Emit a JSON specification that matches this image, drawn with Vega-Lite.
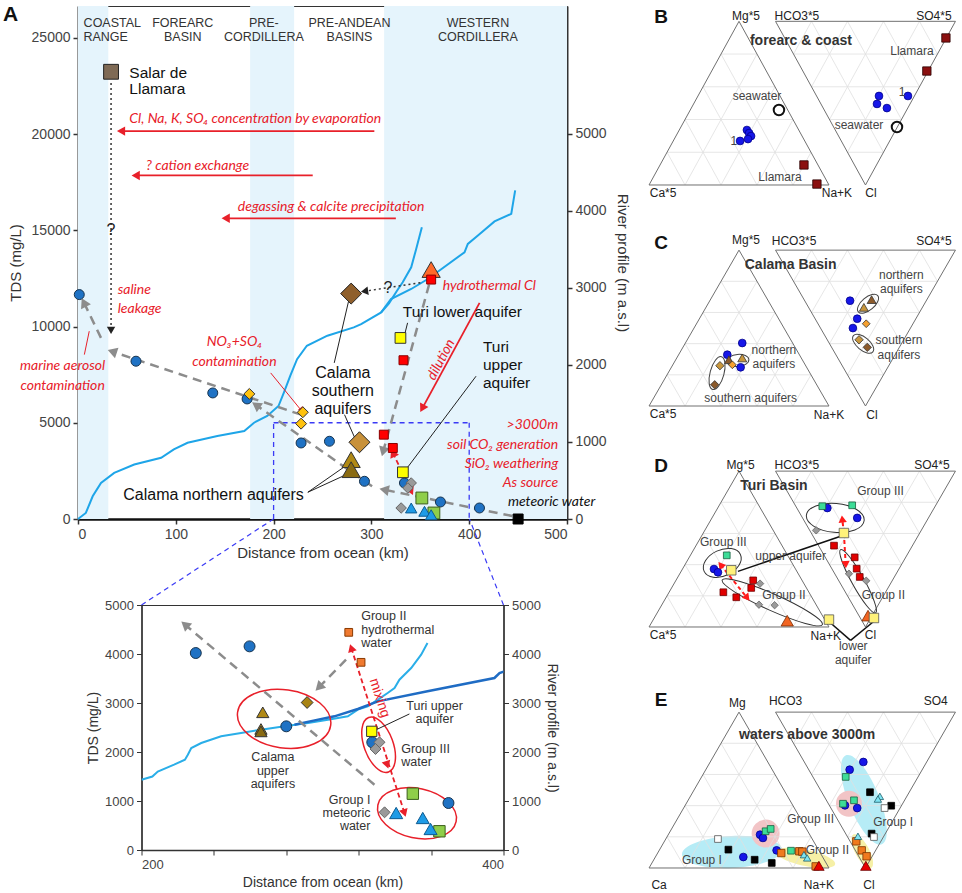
{
"$schema":"https://vega.github.io/schema/vega-lite/v6.json",
"background":"white",
"padding":{"left":2,"top":3,"right":0,"bottom":0},
"config":{
 "font":"Liberation Sans",
 "view":{"stroke":"#333333","strokeWidth":1},
 "axis":{"labelFont":"Liberation Sans","titleFont":"Liberation Sans","labelFontSize":14,"titleFontSize":15,"labelColor":"#444444","titleColor":"#333333","titleFontWeight":"normal","grid":false,"domainColor":"#333333","tickColor":"#333333","domainWidth":2,"tickWidth":1.5,"tickSize":5,"labelPadding":3},
 "text":{"baseline":"middle","font":"Liberation Sans"}
},
"datasets":{
 "tgrid":[
  {"x":0.1,"y":0.1732,"x2":0.9,"y2":0.1732},{"x":0.2,"y":0.3464,"x2":0.8,"y2":0.3464},{"x":0.3,"y":0.5196,"x2":0.7,"y2":0.5196},{"x":0.4,"y":0.6928,"x2":0.6,"y2":0.6928},
  {"x":0.2,"y":0,"x2":0.6,"y2":0.6928},{"x":0.4,"y":0,"x2":0.7,"y2":0.5196},{"x":0.6,"y":0,"x2":0.8,"y2":0.3464},{"x":0.8,"y":0,"x2":0.9,"y2":0.1732},
  {"x":0.2,"y":0,"x2":0.1,"y2":0.1732},{"x":0.4,"y":0,"x2":0.2,"y2":0.3464},{"x":0.6,"y":0,"x2":0.3,"y2":0.5196},{"x":0.8,"y":0,"x2":0.4,"y2":0.6928},
  {"x":0.803,"y":0.6928,"x2":1.603,"y2":0.6928},{"x":0.903,"y":0.5196,"x2":1.503,"y2":0.5196},{"x":1.003,"y":0.3464,"x2":1.403,"y2":0.3464},{"x":1.103,"y":0.1732,"x2":1.303,"y2":0.1732},
  {"x":0.903,"y":0.866,"x2":1.303,"y2":0.1732},{"x":1.103,"y":0.866,"x2":1.403,"y2":0.3464},{"x":1.303,"y":0.866,"x2":1.503,"y2":0.5196},{"x":1.503,"y":0.866,"x2":1.603,"y2":0.6928},
  {"x":0.903,"y":0.866,"x2":0.803,"y2":0.6928},{"x":1.103,"y":0.866,"x2":0.903,"y2":0.5196},{"x":1.303,"y":0.866,"x2":1.003,"y2":0.3464},{"x":1.503,"y":0.866,"x2":1.103,"y2":0.1732}
 ],
 "tedge":[
  {"x":0,"y":0,"x2":1,"y2":0},{"x":1,"y":0,"x2":0.5,"y2":0.866},{"x":0.5,"y":0.866,"x2":0,"y2":0},
  {"x":0.703,"y":0.866,"x2":1.703,"y2":0.866},{"x":1.703,"y":0.866,"x2":1.203,"y2":0},{"x":1.203,"y":0,"x2":0.703,"y2":0.866}
 ]
},
"resolve":{"scale":{"shape":"independent","fill":"independent","stroke":"independent","size":"independent"}},
"hconcat":[
{"vconcat":[
 {
 "width":489,"height":513,
 "layer":[
  {"data":{"values":[{"d":0,"d2":31},{"d":176,"d2":221},{"d":313,"d2":500}]},
   "mark":{"type":"rect","color":"#e5f4fc"},
   "encoding":{"x":{"field":"d","type":"quantitative","scale":{"domain":[0,500],"nice":false,"zero":false},"title":"Distance from ocean (km)"},"x2":{"field":"d2"}}},
  {"data":{"values":[
    {"s":"m","d":0,"e":0},{"s":"m","d":8,"e":78},{"s":"m","d":15,"e":295},{"s":"m","d":23.5,"e":469},{"s":"m","d":37,"e":599},{"s":"m","d":57.5,"e":707},{"s":"m","d":85,"e":794},{"s":"m","d":98,"e":903},{"s":"m","d":112,"e":990},{"s":"m","d":142.5,"e":1077},{"s":"m","d":170,"e":1142},{"s":"m","d":180,"e":1250},{"s":"m","d":193.5,"e":1337},{"s":"m","d":205,"e":1467},{"s":"m","d":210.5,"e":1640},{"s":"m","d":217,"e":1858},{"s":"m","d":224,"e":2075},{"s":"m","d":234,"e":2249},{"s":"m","d":255,"e":2380},{"s":"m","d":282,"e":2487},{"s":"m","d":289.5,"e":2530},{"s":"m","d":310,"e":2682},{"s":"m","d":320,"e":2855},{"s":"m","d":340.7,"e":2986},{"s":"m","d":357.7,"e":3116},{"s":"m","d":395.2,"e":3463},{"s":"m","d":398.6,"e":3571},{"s":"m","d":408.9,"e":3681},{"s":"m","d":425.9,"e":3863},{"s":"m","d":443,"e":3962},{"s":"m","d":447,"e":4267},
    {"s":"b","d":310,"e":2682},{"s":"b","d":318,"e":2800},{"s":"b","d":326,"e":2960},{"s":"b","d":332,"e":3073},{"s":"b","d":340.7,"e":3268},{"s":"b","d":345.8,"e":3506},{"s":"b","d":351.6,"e":3789}
   ]},
   "mark":{"type":"line","color":"#1ea5e8","strokeWidth":2},
   "encoding":{"x":{"field":"d","type":"quantitative","scale":{"domain":[0,500],"nice":false,"zero":false},"title":"Distance from ocean (km)"},
    "y":{"field":"e","type":"quantitative","scale":{"domain":[0,6660],"nice":false,"zero":false},"axis":{"orient":"right","title":"River profile (m a.s.l)","values":[0,1000,2000,3000,4000,5000],"format":"d","titlePadding":8}},
    "detail":{"field":"s","type":"nominal"}}},
  {"encoding":{
    "x":{"field":"d","type":"quantitative","scale":{"domain":[0,500],"nice":false,"zero":false},"title":"Distance from ocean (km)","axis":{"values":[0,100,200,300,400,500],"domainWidth":2.5,"domainColor":"#111111"}},
    "y":{"field":"t","type":"quantitative","scale":{"domain":[0,26650],"nice":false,"zero":false},"title":"TDS (mg/L)","axis":{"values":[0,5000,10000,15000,20000,25000],"format":"d","domainColor":"#777777","domainWidth":2.5,"titlePadding":8}}},
   "layer":[
    {"data":{"values":[{"d":200,"t":0,"d2":200,"t2":5000},{"d":200,"t":5000,"d2":400,"t2":5000},{"d":400,"t":5000,"d2":400,"t2":0}]},
     "mark":{"type":"rule","color":"#3a3af5","strokeWidth":1.3,"strokeDash":[5,4]},"encoding":{"x2":{"field":"d2"},"y2":{"field":"t2"}}},
    {"data":{"values":[{"d":444,"t":156,"d2":313,"t2":1523},{"d":300.7,"t":1698,"d2":182,"t2":5920},{"d":228,"t":5420,"d2":35,"t2":8700},{"d":23.5,"t":9410,"d2":6,"t2":11250},{"d":359,"t":12180,"d2":312,"t2":3500}]},
     "mark":{"type":"rule","color":"#8c8c8c","strokeWidth":2.5,"strokeDash":[9,6]},"encoding":{"x2":{"field":"d2"},"y2":{"field":"t2"}}},
    {"data":{"values":[{"d":350,"t":12270,"d2":293,"t2":11830},{"d":33.8,"t":22650,"d2":33.8,"t2":9800}]},
     "mark":{"type":"rule","color":"#333333","strokeWidth":1.5,"strokeDash":[2,3]},"encoding":{"x2":{"field":"d2"},"y2":{"field":"t2"}}},
    {"data":{"values":[{"d":303,"t":20150,"d2":44,"t2":20150},{"d":240,"t":17850,"d2":59,"t2":17850},{"d":325,"t":15620,"d2":151,"t2":15620},{"d":410.6,"t":11230,"d2":352,"t2":5750}]},
     "mark":{"type":"rule","color":"#e8202a","strokeWidth":1.8},"encoding":{"x2":{"field":"d2"},"y2":{"field":"t2"}}},
    {"data":{"values":[{"d":197,"t":7590,"d2":229,"t2":5598},{"d":11.5,"t":9757,"d2":6.5,"t2":8540}]},
     "mark":{"type":"rule","color":"#e8202a","strokeWidth":1},"encoding":{"x2":{"field":"d2"},"y2":{"field":"t2"}}},
    {"data":{"values":[{"d":322,"t":3430,"d2":340.7,"t2":1440}]},
     "mark":{"type":"rule","color":"#e8202a","strokeWidth":1.8,"strokeDash":[5,3]},"encoding":{"x2":{"field":"d2"},"y2":{"field":"t2"}}},
    {"data":{"values":[{"d":262,"t":8110,"d2":277.5,"t2":11500},{"d":272.5,"t":5420,"d2":282.7,"t2":4250},{"d":235,"t":1390,"d2":274,"t2":2770},{"d":235,"t":1390,"d2":274,"t2":2300},{"d":407,"t":7418,"d2":334,"t2":2480},{"d":337,"t":10190,"d2":334,"t2":9580}]},
     "mark":{"type":"rule","color":"#222222","strokeWidth":1},"encoding":{"x2":{"field":"d2"},"y2":{"field":"t2"}}},
    {"data":{"values":[{"d":313,"t":1523,"a":-78.4},{"d":182,"t":5920,"a":-55.3},{"d":35,"t":8700,"a":-71.5},{"d":6,"t":11250,"a":-26.5},{"d":312,"t":3500,"a":-164.6}]},
     "mark":{"type":"point","shape":"triangle-up","filled":true,"color":"#8c8c8c","size":120,"opacity":1},"encoding":{"angle":{"field":"a","type":"quantitative","scale":null}}},
    {"data":{"values":[{"d":293,"t":11830,"a":-98.5},{"d":33.8,"t":9800,"a":180}]},
     "mark":{"type":"point","shape":"triangle-up","filled":true,"color":"#222222","size":70,"opacity":1},"encoding":{"angle":{"field":"a","type":"quantitative","scale":null}}},
    {"data":{"values":[{"d":44,"t":20150,"a":-90},{"d":59,"t":17850,"a":-90},{"d":151,"t":15620,"a":-90},{"d":352,"t":5750,"a":-151.4},{"d":322,"t":3430,"a":-25.5},{"d":340.7,"t":1440,"a":154.5}]},
     "mark":{"type":"point","shape":"triangle-up","filled":true,"color":"#e8202a","size":90,"opacity":1},"encoding":{"angle":{"field":"a","type":"quantitative","scale":null}}},
    {"data":{"values":[{"d":229,"t":5650,"a":140.7}]},
     "mark":{"type":"point","shape":"triangle-up","filled":true,"color":"#e8202a","size":40,"opacity":1},"encoding":{"angle":{"field":"a","type":"quantitative","scale":null}}},
    {"data":{"values":[
      {"d":279.3,"t":11710,"c":"bdD"},{"d":287.8,"t":3987,"c":"bdL"},{"d":279.3,"t":3082,"c":"btL"},{"d":279.3,"t":2562,"c":"btD"},
      {"d":361.1,"t":12958,"c":"hyd"},{"d":361.1,"t":12438,"c":"red"},{"d":332.8,"t":8248,"c":"red"},{"d":312.7,"t":4381,"c":"red"},{"d":321.9,"t":3690,"c":"red"},
      {"d":1.3,"t":11658,"c":"gw"},{"d":59.3,"t":8197,"c":"gw"},{"d":137.8,"t":6549,"c":"gw"},{"d":172.9,"t":6237,"c":"gw"},{"d":228.1,"t":3950,"c":"gw"},{"d":257.1,"t":4038,"c":"gw"},{"d":292.9,"t":1959,"c":"gw"},{"d":333.8,"t":1871,"c":"gw"},{"d":370.6,"t":884,"c":"gw"},{"d":410.5,"t":572,"c":"gw"},
      {"d":175.2,"t":6497,"c":"yd"},{"d":229.9,"t":5546,"c":"yd"},{"d":228.1,"t":4953,"c":"yd"},
      {"d":340.7,"t":1871,"c":"gray"},{"d":337.3,"t":1611,"c":"gray"},{"d":330.4,"t":572,"c":"gray"},
      {"d":329.7,"t":9407,"c":"ysq"},{"d":332.2,"t":2427,"c":"ysq"},
      {"d":351.6,"t":1091,"c":"green"},{"d":363.9,"t":312,"c":"green"},
      {"d":340.7,"t":572,"c":"cyan"},{"d":354.3,"t":400,"c":"cyan"},{"d":361.1,"t":223,"c":"cyan"},
      {"d":450,"t":0,"c":"blk"},{"d":33.8,"t":23233,"c":"salar"}
     ]},
     "mark":{"type":"point","filled":true,"strokeWidth":1,"opacity":1},
     "encoding":{
      "shape":{"field":"c","type":"nominal","scale":{"domain":["gw","yd","bdD","bdL","btL","btD","red","hyd","ysq","gray","green","cyan","blk","salar"],"range":["circle","diamond","diamond","diamond","triangle-up","triangle-up","square","triangle-up","square","diamond","square","triangle-up","square","square"]},"legend":null},
      "fill":{"field":"c","type":"nominal","scale":{"domain":["gw","yd","bdD","bdL","btL","btD","red","hyd","ysq","gray","green","cyan","blk","salar"],"range":["#1f72c4","#ffc20e","#8f5f2c","#c8913a","#b08915","#8a6b12","#ff0000","#ff6a2b","#ffff00","#9a9a9a","#8fce4a","#1e9be6","#000000","#7f6a55"]},"legend":null},
      "stroke":{"field":"c","type":"nominal","scale":{"domain":["gw","yd","bdD","bdL","btL","btD","red","hyd","ysq","gray","green","cyan","blk","salar"],"range":["#17344f","#333333","#222222","#222222","#333333","#333333","#8a0000","#333333","#333333","#666666","#3b5e1c","#0e5a90","#000000","#222222"]},"legend":null},
      "size":{"field":"c","type":"nominal","scale":{"type":"ordinal","domain":["gw","yd","bdD","bdL","btL","btD","red","hyd","ysq","gray","green","cyan","blk","salar"],"range":[100,120,440,440,330,330,80,330,115,110,140,130,100,220]},"legend":null}}},
    {"data":{"values":[{"d":35.1,"t":25780,"s":"COASTAL"},{"d":28.3,"t":25036,"s":"RANGE"},{"d":107.1,"t":25780,"s":"FOREARC"},{"d":107.1,"t":25036,"s":"BASIN"},{"d":190,"t":25780,"s":"PRE-"},{"d":190,"t":25036,"s":"CORDILLERA"},{"d":277.6,"t":25780,"s":"PRE-ANDEAN"},{"d":277.6,"t":25036,"s":"BASINS"},{"d":408.9,"t":25780,"s":"WESTERN"},{"d":408.9,"t":25036,"s":"CORDILLERA"}]},
     "mark":{"type":"text","fontSize":12.5,"color":"#333333","align":"center"},"encoding":{"text":{"field":"s"}}},
    {"data":{"values":[{"d":52.5,"t":20790,"s":"Cl, Na, K, SO₄ concentration by evaporation"},{"d":69.6,"t":18331,"s":"? cation exchange"},{"d":163.4,"t":16216,"s":"degassing & calcite precipitation"},{"d":40.6,"t":11887,"s":"saline"},{"d":40.6,"t":10930,"s":"leakage"},{"d":373,"t":12130,"s":"hydrothermal Cl"}]},
     "mark":{"type":"text","font":"Lato","fontStyle":"italic","fontSize":14,"color":"#e8202a","align":"left"},"encoding":{"text":{"field":"s"}}},
    {"data":{"values":[{"d":-15.7,"t":7937,"s":"marine aerosol"},{"d":-15.7,"t":6928,"s":"contamination"},{"d":159.9,"t":9184,"s":"NO₃+SO₄"},{"d":159.9,"t":8160,"s":"contamination"}]},
     "mark":{"type":"text","font":"Lato","fontStyle":"italic","fontSize":14,"color":"#e8202a","align":"center"},"encoding":{"text":{"field":"s"}}},
    {"data":{"values":[{"d":491,"t":4900,"s":">3000m"},{"d":491,"t":3860,"s":"soil CO₂ generation"},{"d":491,"t":2860,"s":"SiO₂ weathering"},{"d":491,"t":1870,"s":"As source"}]},
     "mark":{"type":"text","font":"Lato","fontStyle":"italic","fontSize":14,"color":"#e8202a","align":"right"},"encoding":{"text":{"field":"s"}}},
    {"data":{"values":[{"d":371.4,"t":8280,"s":"dilution"}]},
     "mark":{"type":"text","font":"Lato","fontStyle":"italic","fontSize":14,"color":"#e8202a","align":"center","angle":-62},"encoding":{"text":{"field":"s"}}},
    {"data":{"values":[{"d":270.8,"t":7590,"s":"Calama"},{"d":270.8,"t":6638,"s":"southern"},{"d":270.8,"t":5718,"s":"aquifers"},{"d":138.6,"t":1265,"s":"Calama northern aquifers"}]},
     "mark":{"type":"text","fontSize":16,"color":"#111111","align":"center"},"encoding":{"text":{"field":"s"}}},
    {"data":{"values":[{"d":332.1,"t":10743,"s":"Turi lower aquifer"},{"d":414,"t":8910,"s":"Turi"},{"d":414,"t":7990,"s":"upper"},{"d":414,"t":7068,"s":"aquifer"},{"d":52.5,"t":23180,"s":"Salar de"},{"d":52.5,"t":22350,"s":"Llamara"}]},
     "mark":{"type":"text","fontSize":15.5,"color":"#111111","align":"left"},"encoding":{"text":{"field":"s"}}},
    {"data":{"values":[{"d":439.6,"t":868,"s":"meteoric water"}]},
     "mark":{"type":"text","font":"Lato","fontStyle":"italic","fontSize":14,"color":"#111111","align":"left"},"encoding":{"text":{"field":"s"}}},
    {"data":{"values":[{"d":33.8,"t":15036,"s":"?"},{"d":316.8,"t":12006,"s":"?"}]},
     "mark":{"type":"text","fontSize":16,"color":"#222222","align":"center"},"encoding":{"text":{"field":"s"}}},
    {"data":{"values":[{"d":-69,"t":26200,"s":"A"}]},
     "mark":{"type":"text","fontSize":21,"fontWeight":"bold","color":"#111111","align":"center"},"encoding":{"text":{"field":"s"}}}
   ]}
 ],
 "resolve":{"scale":{"y":"independent"}}
 },
 {
 "width":362,"height":245,
 "layer":[
  {"encoding":{
    "x":{"field":"d","type":"quantitative","scale":{"domain":[200,400],"nice":false,"zero":false},"title":"Distance from ocean (km)"},
    "y":{"field":"e","type":"quantitative","scale":{"domain":[0,5000],"nice":false,"zero":false},"axis":{"orient":"right","title":"River profile (m a.s.l)","values":[0,1000,2000,3000,4000,5000],"format":"d","labelFontSize":13,"titleFontSize":14,"domainWidth":1.5,"tickWidth":1}}},
   "layer":[
    {"data":{"values":[{"d":200,"e":1435},{"d":206,"e":1500},{"d":209,"e":1602},{"d":218,"e":1741},{"d":224,"e":1843},{"d":225.6,"e":1945},{"d":227.5,"e":2082},{"d":233,"e":2184},{"d":244,"e":2320},{"d":255,"e":2388},{"d":266,"e":2456},{"d":279,"e":2524},{"d":292,"e":2592},{"d":303,"e":2660},{"d":314,"e":2728},{"d":319.5,"e":2864},{"d":325,"e":2932},{"d":330.6,"e":3068},{"d":336,"e":3204},{"d":339.8,"e":3306},{"d":342.5,"e":3475},{"d":349,"e":3714},{"d":354.5,"e":3986},{"d":358,"e":4224}]},
     "mark":{"type":"line","color":"#2aaee8","strokeWidth":2,"clip":true}},
    {"data":{"values":[{"d":284.5,"e":2555},{"d":295,"e":2640},{"d":306.6,"e":2728},{"d":319.5,"e":2878},{"d":330.6,"e":3034},{"d":358,"e":3238},{"d":395,"e":3510},{"d":397.8,"e":3612},{"d":402,"e":3666}]},
     "mark":{"type":"line","color":"#1f6cc4","strokeWidth":2.5,"clip":true}}
   ]},
  {"encoding":{
    "x":{"field":"d","type":"quantitative","scale":{"domain":[200,400],"nice":false,"zero":false},"title":"Distance from ocean (km)","axis":{"values":[200,220,240,260,280,300,320,340,360,380,400],"labelExpr":"datum.value % 100 === 0 ? datum.label : ''","labelFontSize":13,"titleFontSize":14,"domainWidth":1.5,"tickWidth":1}},
    "y":{"field":"t","type":"quantitative","scale":{"domain":[0,5000],"nice":false,"zero":false},"title":"TDS (mg/L)","axis":{"values":[0,1000,2000,3000,4000,5000],"format":"d","labelFontSize":13,"titleFontSize":14,"domainWidth":1.5,"tickWidth":1}}},
   "layer":[
    {"data":{"values":[{"d":200,"t":5000,"d2":272.9,"t2":6755},{"d":400,"t":5000,"d2":381.2,"t2":6755}]},
     "mark":{"type":"rule","color":"#3a3af5","strokeWidth":1.2,"strokeDash":[5,4]},"encoding":{"x2":{"field":"d2"},"y2":{"field":"t2"}}},
    {"data":{"values":[{"d":278.8,"t":2678}]},
     "mark":{"type":"point","shape":"M-1,0C-1,-0.3424 -0.5523,-0.62 0,-0.62C0.5523,-0.62 1,-0.3424 1,0C1,0.3424 0.5523,0.62 0,0.62C-0.5523,0.62 -1,0.3424 -1,0Z","size":8836,"angle":8,"filled":false,"stroke":"#e8202a","strokeWidth":1.5,"opacity":1}},
    {"data":{"values":[{"d":331,"t":2149}]},
     "mark":{"type":"point","shape":"M-1,0C-1,-0.2762 -0.5523,-0.5 0,-0.5C0.5523,-0.5 1,-0.2762 1,0C1,0.2762 0.5523,0.5 0,0.5C-0.5523,0.5 -1,0.2762 -1,0Z","size":3364,"angle":70,"filled":false,"stroke":"#e8202a","strokeWidth":1.5,"opacity":1}},
    {"data":{"values":[{"d":352.2,"t":749}]},
     "mark":{"type":"point","shape":"M-1,0C-1,-0.3424 -0.5523,-0.62 0,-0.62C0.5523,-0.62 1,-0.3424 1,0C1,0.3424 0.5523,0.62 0,0.62C-0.5523,0.62 -1,0.3424 -1,0Z","size":6400,"angle":12,"filled":false,"stroke":"#e8202a","strokeWidth":1.5,"opacity":1}},
    {"data":{"values":[{"d":328.7,"t":1333,"d2":224,"t2":4600},{"d":313,"t":3884,"d2":298,"t2":3320}]},
     "mark":{"type":"rule","color":"#8c8c8c","strokeWidth":2.5,"strokeDash":[9,6]},"encoding":{"x2":{"field":"d2"},"y2":{"field":"t2"}}},
    {"data":{"values":[{"d":315.9,"t":4122,"d2":345.3,"t2":755}]},
     "mark":{"type":"rule","color":"#e8202a","strokeWidth":1.8,"strokeDash":[5,3]},"encoding":{"x2":{"field":"d2"},"y2":{"field":"t2"}}},
    {"data":{"values":[{"d":348,"t":2776,"d2":327.8,"t2":2422}]},
     "mark":{"type":"rule","color":"#222222","strokeWidth":1},"encoding":{"x2":{"field":"d2"},"y2":{"field":"t2"}}},
    {"data":{"values":[{"d":224,"t":4600,"a":-49.8},{"d":298,"t":3320,"a":-135}]},
     "mark":{"type":"point","shape":"triangle-up","filled":true,"color":"#8c8c8c","size":120,"opacity":1},"encoding":{"angle":{"field":"a","type":"quantitative","scale":null}}},
    {"data":{"values":[{"d":315.9,"t":4122,"a":-17.9},{"d":345.3,"t":755,"a":162.1},{"d":335.7,"t":1739,"a":162.1}]},
     "mark":{"type":"point","shape":"triangle-up","filled":true,"color":"#e8202a","size":80,"opacity":1},"encoding":{"angle":{"field":"a","type":"quantitative","scale":null}}},
    {"data":{"values":[
      {"d":267,"t":2810,"c":"btL"},{"d":266,"t":2470,"c":"btL"},{"d":266,"t":2420,"c":"btD"},{"d":291.5,"t":3010,"c":"olD"},
      {"d":230,"t":4020,"c":"gw"},{"d":259.7,"t":4156,"c":"gw"},{"d":280,"t":2524,"c":"gw"},{"d":327.5,"t":2198,"c":"gw"},{"d":369.6,"t":959,"c":"gw"},
      {"d":314.5,"t":4442,"c":"orng"},{"d":321.3,"t":3830,"c":"orng"},
      {"d":331.5,"t":2198,"c":"gray"},{"d":329.3,"t":2061,"c":"gray"},{"d":334.3,"t":769,"c":"gray"},
      {"d":327.2,"t":2422,"c":"ysq"},
      {"d":349.9,"t":1149,"c":"green"},{"d":364.6,"t":382,"c":"green"},
      {"d":340.7,"t":755,"c":"cyan"},{"d":355.4,"t":653,"c":"cyan"},{"d":359.7,"t":429,"c":"cyan"}
     ]},
     "mark":{"type":"point","filled":true,"strokeWidth":1,"opacity":1},
     "encoding":{
      "shape":{"field":"c","type":"nominal","scale":{"domain":["gw","orng","ysq","gray","btL","btD","olD","cyan","green"],"range":["circle","square","square","diamond","triangle-up","triangle-up","diamond","triangle-up","square"]},"legend":null},
      "fill":{"field":"c","type":"nominal","scale":{"domain":["gw","orng","ysq","gray","btL","btD","olD","cyan","green"],"range":["#1f72c4","#f07a30","#ffff00","#9a9a9a","#b08915","#8a6b12","#a88414","#1e9be6","#8fce4a"]},"legend":null},
      "stroke":{"field":"c","type":"nominal","scale":{"domain":["gw","orng","ysq","gray","btL","btD","olD","cyan","green"],"range":["#17344f","#8a3a00","#333333","#666666","#333333","#333333","#333333","#0e5a90","#3b5e1c"]},"legend":null},
      "size":{"field":"c","type":"nominal","scale":{"type":"ordinal","domain":["gw","orng","ysq","gray","btL","btD","olD","cyan","green"],"range":[120,60,105,120,150,150,140,170,130]},"legend":null}}},
    {"data":{"values":[{"d":321.4,"t":4770,"s":"Group II"},{"d":321.4,"t":4497,"s":"hydrothermal"},{"d":321.4,"t":4225,"s":"water"},{"d":343.5,"t":2067,"s":"Group III"},{"d":343.5,"t":1796,"s":"water"}]},
     "mark":{"type":"text","fontSize":12.5,"color":"#333333","align":"left"},"encoding":{"text":{"field":"s"}}},
    {"data":{"values":[{"d":272.6,"t":1891,"s":"Calama"},{"d":272.6,"t":1619,"s":"upper"},{"d":272.6,"t":1347,"s":"aquifers"},{"d":361.9,"t":2932,"s":"Turi upper"},{"d":361.9,"t":2674,"s":"aquifer"}]},
     "mark":{"type":"text","fontSize":12.5,"color":"#333333","align":"center"},"encoding":{"text":{"field":"s"}}},
    {"data":{"values":[{"d":326.5,"t":1027,"s":"Group I"},{"d":326.5,"t":755,"s":"meteoric"},{"d":326.5,"t":483,"s":"water"}]},
     "mark":{"type":"text","fontSize":12.5,"color":"#333333","align":"right"},"encoding":{"text":{"field":"s"}}},
    {"data":{"values":[{"d":331.5,"t":3102,"s":"mixing"}]},
     "mark":{"type":"text","fontSize":14,"color":"#e8202a","align":"center","angle":72},"encoding":{"text":{"field":"s"}}}
   ]}
 ],
 "resolve":{"scale":{"y":"independent"}}
 }
],"spacing":86,"bounds":"flush","center":true,
"resolve":{"scale":{"shape":"independent","fill":"independent","stroke":"independent","size":"independent"}}},
{"vconcat":[
 {
 "width":312,"height":192,"view":{"stroke":"transparent"},
 "encoding":{"x":{"field":"x","type":"quantitative","scale":{"domain":[-0.028,1.706],"nice":false,"zero":false},"axis":null},"y":{"field":"y","type":"quantitative","scale":{"domain":[-0.0688,0.9471],"nice":false,"zero":false},"axis":null}},
 "layer":[
  {"data":{"name":"tgrid"},"mark":{"type":"rule","color":"#e0e0e0","strokeWidth":0.8},"encoding":{"x2":{"field":"x2"},"y2":{"field":"y2"}}},
  {"data":{"name":"tedge"},"mark":{"type":"rule","color":"#707070","strokeWidth":1},"encoding":{"x2":{"field":"x2"},"y2":{"field":"y2"}}},
  {"data":{"values":[{"x":0.544,"y":0.291,"c":"gw"},{"x":0.556,"y":0.275,"c":"gw"},{"x":0.567,"y":0.259,"c":"gw"},{"x":0.55,"y":0.243,"c":"gw"},{"x":0.506,"y":0.233,"c":"gw"},{"x":1.278,"y":0.471,"c":"gw"},{"x":1.267,"y":0.429,"c":"gw"},{"x":1.322,"y":0.407,"c":"gw"},{"x":1.439,"y":0.471,"c":"gw"},{"x":0.861,"y":0.106,"c":"llam"},{"x":0.933,"y":0.005,"c":"llam"},{"x":1.65,"y":0.778,"c":"llam"},{"x":1.544,"y":0.603,"c":"llam"}]},
   "mark":{"type":"point","filled":true,"strokeWidth":0.8,"opacity":1},
   "encoding":{
    "shape":{"field":"c","type":"nominal","scale":{"domain":["gw","llam","nL","nD","sL","sD","sO","g3","up","g2","gray","hyd","blk","open","cyan","orng","redt"],"range":["circle","square","triangle-up","triangle-up","diamond","diamond","diamond","square","square","square","diamond","triangle-up","square","square","triangle-up","square","triangle-up"]},"legend":null},
    "fill":{"field":"c","type":"nominal","scale":{"domain":["gw","llam","nL","nD","sL","sD","sO","g3","up","g2","gray","hyd","blk","open","cyan","orng","redt"],"range":["#1616e8","#8b1010","#c8963c","#8b5a2b","#c8963c","#8b5a2b","#f5a030","#3ddc97","#fff27a","#e00000","#9a9a9a","#f26522","#000000","#ffffff","#7fe4f2","#f07a1e","#e60000"]},"legend":null},
    "stroke":{"field":"c","type":"nominal","scale":{"domain":["gw","llam","nL","nD","sL","sD","sO","g3","up","g2","gray","hyd","blk","open","cyan","orng","redt"],"range":["#00008a","#2a0000","#333333","#333333","#333333","#333333","#333333","#1a6040","#555555","#700000","#666666","#7a2a00","#000000","#555555","#1d5d6a","#7a3300","#700000"]},"legend":null},
    "size":{"field":"c","type":"nominal","scale":{"type":"ordinal","domain":["gw","llam","nL","nD","sL","sD","sO","g3","up","g2","gray","hyd","blk","open","cyan","orng","redt"],"range":[60,70,80,80,70,70,60,45,90,45,55,150,45,45,55,55,110]},"legend":null}}},
  {"data":{"values":[{"x":0.722,"y":0.397},{"x":1.378,"y":0.307}]},
   "mark":{"type":"point","shape":"circle","size":110,"filled":false,"stroke":"#111111","strokeWidth":2,"opacity":1}},
  {"data":{"values":[{"x":0.539,"y":0.894,"s":"Mg*5"},{"x":0.822,"y":0.894,"s":"HCO3*5"},{"x":1.583,"y":0.894,"s":"SO4*5"},{"x":0.078,"y":-0.042,"s":"Ca*5"},{"x":1.044,"y":-0.042,"s":"Na+K"},{"x":1.233,"y":-0.042,"s":"Cl"}]},
   "mark":{"type":"text","fontSize":12,"color":"#222222","align":"center"},"encoding":{"text":{"field":"s"}}},
  {"data":{"values":[{"x":0.067,"y":0.889,"s":"B"}]},
   "mark":{"type":"text","fontSize":19,"fontWeight":"bold","color":"#111111","align":"center"},"encoding":{"text":{"field":"s"}}},
  {"data":{"values":[{"x":0.844,"y":0.762,"s":"forearc & coast"}]},
   "mark":{"type":"text","fontSize":14,"fontWeight":"bold","color":"#333333","align":"center"},"encoding":{"text":{"field":"s"}}},
  {"data":{"values":[{"x":0.6,"y":0.471,"s":"seawater"},{"x":0.472,"y":0.233,"s":"1"},{"x":0.728,"y":0.042,"s":"Llamara"},{"x":1.461,"y":0.709,"s":"Llamara"},{"x":1.167,"y":0.317,"s":"seawater"},{"x":1.406,"y":0.492,"s":"1"}]},
   "mark":{"type":"text","fontSize":12,"color":"#444444","align":"center"},"encoding":{"text":{"field":"s"}}}
 ]},
 {
 "width":312,"height":225,"view":{"stroke":"transparent"},
 "encoding":{"x":{"field":"x","type":"quantitative","scale":{"domain":[-0.028,1.706],"nice":false,"zero":false},"axis":null},"y":{"field":"y","type":"quantitative","scale":{"domain":[-0.0944,1.1556],"nice":false,"zero":false},"axis":null}},
 "layer":[
  {"data":{"name":"tgrid"},"mark":{"type":"rule","color":"#e0e0e0","strokeWidth":0.8},"encoding":{"x2":{"field":"x2"},"y2":{"field":"y2"}}},
  {"data":{"name":"tedge"},"mark":{"type":"rule","color":"#707070","strokeWidth":1},"encoding":{"x2":{"field":"x2"},"y2":{"field":"y2"}}},
  {"data":{"values":[{"x":1.217,"y":0.568}]},"mark":{"type":"point","shape":"M-1,0C-1,-0.2762 -0.5523,-0.5 0,-0.5C0.5523,-0.5 1,-0.2762 1,0C1,0.2762 0.5523,0.5 0,0.5C-0.5523,0.5 -1,0.2762 -1,0Z","size":645,"angle":-40,"filled":false,"stroke":"#444444","strokeWidth":1,"opacity":1}},
  {"data":{"values":[{"x":1.19,"y":0.346}]},"mark":{"type":"point","shape":"M-1,0C-1,-0.2762 -0.5523,-0.5 0,-0.5C0.5523,-0.5 1,-0.2762 1,0C1,0.2762 0.5523,0.5 0,0.5C-0.5523,0.5 -1,0.2762 -1,0Z","size":645,"angle":40,"filled":false,"stroke":"#444444","strokeWidth":1,"opacity":1}},
  {"data":{"values":[{"x":0.494,"y":0.253}]},"mark":{"type":"point","shape":"M-1,0C-1,-0.3038 -0.5523,-0.55 0,-0.55C0.5523,-0.55 1,-0.3038 1,0C1,0.3038 0.5523,0.55 0,0.55C-0.5523,0.55 -1,0.3038 -1,0Z","size":484,"angle":-5,"filled":false,"stroke":"#444444","strokeWidth":1,"opacity":1}},
  {"data":{"values":[{"x":0.378,"y":0.183}]},"mark":{"type":"point","shape":"M-1,0C-1,-0.2264 -0.5523,-0.41 0,-0.41C0.5523,-0.41 1,-0.2264 1,0C1,0.2264 0.5523,0.41 0,0.41C-0.5523,0.41 -1,0.2264 -1,0Z","size":1156,"angle":-75,"filled":false,"stroke":"#444444","strokeWidth":1,"opacity":1}},
  {"data":{"values":[{"x":0.518,"y":0.35,"c":"gw"},{"x":0.435,"y":0.285,"c":"gw"},{"x":0.509,"y":0.215,"c":"gw"},{"x":1.117,"y":0.585,"c":"gw"},{"x":1.157,"y":0.485,"c":"gw"},{"x":1.133,"y":0.433,"c":"gw"},{"x":0.518,"y":0.267,"c":"nL"},{"x":1.194,"y":0.548,"c":"nL"},{"x":0.444,"y":0.257,"c":"nD"},{"x":1.237,"y":0.591,"c":"nD"},{"x":0.394,"y":0.224,"c":"sL"},{"x":1.167,"y":0.368,"c":"sL"},{"x":0.365,"y":0.118,"c":"sD"},{"x":1.213,"y":0.326,"c":"sD"},{"x":0.463,"y":0.229,"c":"sO"},{"x":1.207,"y":0.457,"c":"sO"}]},
   "mark":{"type":"point","filled":true,"strokeWidth":0.8,"opacity":1},
   "encoding":{
    "shape":{"field":"c","type":"nominal","scale":{"domain":["gw","llam","nL","nD","sL","sD","sO","g3","up","g2","gray","hyd","blk","open","cyan","orng","redt"],"range":["circle","square","triangle-up","triangle-up","diamond","diamond","diamond","square","square","square","diamond","triangle-up","square","square","triangle-up","square","triangle-up"]},"legend":null},
    "fill":{"field":"c","type":"nominal","scale":{"domain":["gw","llam","nL","nD","sL","sD","sO","g3","up","g2","gray","hyd","blk","open","cyan","orng","redt"],"range":["#1616e8","#8b1010","#c8963c","#8b5a2b","#c8963c","#8b5a2b","#f5a030","#3ddc97","#fff27a","#e00000","#9a9a9a","#f26522","#000000","#ffffff","#7fe4f2","#f07a1e","#e60000"]},"legend":null},
    "stroke":{"field":"c","type":"nominal","scale":{"domain":["gw","llam","nL","nD","sL","sD","sO","g3","up","g2","gray","hyd","blk","open","cyan","orng","redt"],"range":["#00008a","#2a0000","#333333","#333333","#333333","#333333","#333333","#1a6040","#555555","#700000","#666666","#7a2a00","#000000","#555555","#1d5d6a","#7a3300","#700000"]},"legend":null},
    "size":{"field":"c","type":"nominal","scale":{"type":"ordinal","domain":["gw","llam","nL","nD","sL","sD","sO","g3","up","g2","gray","hyd","blk","open","cyan","orng","redt"],"range":[60,70,80,80,70,70,60,45,90,45,55,150,45,45,55,55,110]},"legend":null}}},
  {"data":{"values":[{"x":0.539,"y":0.922,"s":"Mg*5"},{"x":0.806,"y":0.917,"s":"HCO3*5"},{"x":1.583,"y":0.917,"s":"SO4*5"},{"x":0.078,"y":-0.046,"s":"Ca*5"},{"x":1.0,"y":-0.048,"s":"Na+K"},{"x":1.239,"y":-0.048,"s":"Cl"}]},
   "mark":{"type":"text","fontSize":12,"color":"#222222","align":"center"},"encoding":{"text":{"field":"s"}}},
  {"data":{"values":[{"x":0.067,"y":0.906,"s":"C"}]},
   "mark":{"type":"text","fontSize":19,"fontWeight":"bold","color":"#111111","align":"center"},"encoding":{"text":{"field":"s"}}},
  {"data":{"values":[{"x":0.787,"y":0.785,"s":"Calama Basin"}]},
   "mark":{"type":"text","fontSize":14,"fontWeight":"bold","color":"#333333","align":"center"},"encoding":{"text":{"field":"s"}}},
  {"data":{"values":[{"x":1.402,"y":0.729,"s":"northern"},{"x":1.402,"y":0.652,"s":"aquifers"},{"x":1.389,"y":0.368,"s":"southern"},{"x":1.389,"y":0.285,"s":"aquifers"},{"x":0.694,"y":0.313,"s":"northern"},{"x":0.694,"y":0.235,"s":"aquifers"},{"x":0.565,"y":0.044,"s":"southern aquifers"}]},
   "mark":{"type":"text","fontSize":12,"color":"#444444","align":"center"},"encoding":{"text":{"field":"s"}}}
 ]},
 {
 "width":312,"height":250,"view":{"stroke":"transparent"},
 "encoding":{"x":{"field":"x","type":"quantitative","scale":{"domain":[-0.028,1.706],"nice":false,"zero":false},"axis":null},"y":{"field":"y","type":"quantitative","scale":{"domain":[-0.2556,1.1333],"nice":false,"zero":false},"axis":null}},
 "layer":[
  {"data":{"name":"tgrid"},"mark":{"type":"rule","color":"#e0e0e0","strokeWidth":0.8},"encoding":{"x2":{"field":"x2"},"y2":{"field":"y2"}}},
  {"data":{"name":"tedge"},"mark":{"type":"rule","color":"#707070","strokeWidth":1},"encoding":{"x2":{"field":"x2"},"y2":{"field":"y2"}}},
  {"data":{"values":[{"x":0.407,"y":0.356}]},"mark":{"type":"point","shape":"M-1,0C-1,-0.359 -0.5523,-0.65 0,-0.65C0.5523,-0.65 1,-0.359 1,0C1,0.359 0.5523,0.65 0,0.65C-0.5523,0.65 -1,0.359 -1,0Z","size":1600,"angle":-25,"filled":false,"stroke":"#333333","strokeWidth":1,"opacity":1}},
  {"data":{"values":[{"x":0.685,"y":0.137}]},"mark":{"type":"point","shape":"M-1,0C-1,-0.0828 -0.5523,-0.15 0,-0.15C0.5523,-0.15 1,-0.0828 1,0C1,0.0828 0.5523,0.15 0,0.15C-0.5523,0.15 -1,0.0828 -1,0Z","size":12013,"angle":24,"filled":false,"stroke":"#333333","strokeWidth":1,"opacity":1}},
  {"data":{"values":[{"x":1.035,"y":0.606}]},"mark":{"type":"point","shape":"M-1,0C-1,-0.2762 -0.5523,-0.5 0,-0.5C0.5523,-0.5 1,-0.2762 1,0C1,0.2762 0.5523,0.5 0,0.5C-0.5523,0.5 -1,0.2762 -1,0Z","size":3364,"angle":5,"filled":false,"stroke":"#333333","strokeWidth":1,"opacity":1}},
  {"data":{"values":[{"x":1.162,"y":0.254}]},"mark":{"type":"point","shape":"M-1,0C-1,-0.0939 -0.5523,-0.17 0,-0.17C0.5523,-0.17 1,-0.0939 1,0C1,0.0939 0.5523,0.17 0,0.17C-0.5523,0.17 -1,0.0939 -1,0Z","size":5242,"angle":61,"filled":false,"stroke":"#333333","strokeWidth":1,"opacity":1}},
  {"data":{"values":[{"x":0.494,"y":0.309,"x2":1.065,"y2":0.504},{"x":1.009,"y":0.022,"x2":1.12,"y2":-0.074},{"x":1.12,"y":-0.074,"x2":1.25,"y2":0.032}]},
   "mark":{"type":"rule","color":"#111111","strokeWidth":1.5},"encoding":{"x2":{"field":"x2"},"y2":{"field":"y2"}}},
  {"data":{"values":[{"x":0.398,"y":0.346,"x2":0.546,"y2":0.161},{"x":1.083,"y":0.522,"x2":1.074,"y2":0.6},{"x":1.083,"y":0.522,"x2":1.093,"y2":0.346}]},
   "mark":{"type":"rule","color":"#ff1a1a","strokeWidth":2,"strokeDash":[4,3]},"encoding":{"x2":{"field":"x2"},"y2":{"field":"y2"}}},
  {"data":{"values":[{"x":0.398,"y":0.346,"a":-38.7},{"x":0.546,"y":0.161,"a":141.3},{"x":1.074,"y":0.6,"a":-6.6},{"x":1.093,"y":0.346,"a":176.7}]},
   "mark":{"type":"point","shape":"triangle-up","filled":true,"color":"#ff1a1a","size":70,"opacity":1},"encoding":{"angle":{"field":"a","type":"quantitative","scale":null}}},
  {"data":{"values":[{"x":0.579,"y":0.259,"c":"g2"},{"x":0.568,"y":0.217,"c":"g2"},{"x":0.413,"y":0.193,"c":"g2"},{"x":0.485,"y":0.165,"c":"g2"},{"x":1.028,"y":0.452,"c":"g2"},{"x":1.143,"y":0.387,"c":"g2"},{"x":1.154,"y":0.324,"c":"g2"},{"x":1.171,"y":0.278,"c":"g2"},
     {"x":0.617,"y":0.241,"c":"gray"},{"x":0.611,"y":0.124,"c":"gray"},{"x":0.698,"y":0.121,"c":"gray"},{"x":0.929,"y":0.537,"c":"gray"},{"x":1.111,"y":0.296,"c":"gray"},{"x":1.207,"y":0.257,"c":"gray"},
     {"x":0.361,"y":0.322,"c":"gw"},{"x":0.383,"y":0.304,"c":"gw"},{"x":0.991,"y":0.661,"c":"gw"},{"x":1.157,"y":0.606,"c":"gw"},
     {"x":0.432,"y":0.398,"c":"g3"},{"x":0.963,"y":0.671,"c":"g3"},{"x":1.129,"y":0.676,"c":"g3"},
     {"x":0.768,"y":0.035,"c":"hyd"},{"x":1.217,"y":0.063,"c":"hyd"},
     {"x":0.457,"y":0.315,"c":"up"},{"x":1.0,"y":0.041,"c":"up"},{"x":1.083,"y":0.522,"c":"up"},{"x":1.25,"y":0.05,"c":"up"}]},
   "mark":{"type":"point","filled":true,"strokeWidth":0.8,"opacity":1},
   "encoding":{
    "shape":{"field":"c","type":"nominal","scale":{"domain":["gw","llam","nL","nD","sL","sD","sO","g3","up","g2","gray","hyd","blk","open","cyan","orng","redt"],"range":["circle","square","triangle-up","triangle-up","diamond","diamond","diamond","square","square","square","diamond","triangle-up","square","square","triangle-up","square","triangle-up"]},"legend":null},
    "fill":{"field":"c","type":"nominal","scale":{"domain":["gw","llam","nL","nD","sL","sD","sO","g3","up","g2","gray","hyd","blk","open","cyan","orng","redt"],"range":["#1616e8","#8b1010","#c8963c","#8b5a2b","#c8963c","#8b5a2b","#f5a030","#3ddc97","#fff27a","#e00000","#9a9a9a","#f26522","#000000","#ffffff","#7fe4f2","#f07a1e","#e60000"]},"legend":null},
    "stroke":{"field":"c","type":"nominal","scale":{"domain":["gw","llam","nL","nD","sL","sD","sO","g3","up","g2","gray","hyd","blk","open","cyan","orng","redt"],"range":["#00008a","#2a0000","#333333","#333333","#333333","#333333","#333333","#1a6040","#555555","#700000","#666666","#7a2a00","#000000","#555555","#1d5d6a","#7a3300","#700000"]},"legend":null},
    "size":{"field":"c","type":"nominal","scale":{"type":"ordinal","domain":["gw","llam","nL","nD","sL","sD","sO","g3","up","g2","gray","hyd","blk","open","cyan","orng","redt"],"range":[60,70,80,80,70,70,60,45,90,45,55,150,45,45,55,55,110]},"legend":null}}},
  {"data":{"values":[{"x":0.509,"y":0.902,"s":"Mg*5"},{"x":0.822,"y":0.9,"s":"HCO3*5"},{"x":1.572,"y":0.9,"s":"SO4*5"},{"x":0.078,"y":-0.044,"s":"Ca*5"},{"x":0.982,"y":-0.048,"s":"Na+K"},{"x":1.231,"y":-0.043,"s":"Cl"}]},
   "mark":{"type":"text","fontSize":12,"color":"#222222","align":"center"},"encoding":{"text":{"field":"s"}}},
  {"data":{"values":[{"x":0.067,"y":0.894,"s":"D"}]},
   "mark":{"type":"text","fontSize":19,"fontWeight":"bold","color":"#111111","align":"center"},"encoding":{"text":{"field":"s"}}},
  {"data":{"values":[{"x":0.694,"y":0.783,"s":"Turi Basin"}]},
   "mark":{"type":"text","fontSize":14,"fontWeight":"bold","color":"#333333","align":"center"},"encoding":{"text":{"field":"s"}}},
  {"data":{"values":[{"x":0.413,"y":0.471,"s":"Group III"},{"x":0.75,"y":0.179,"s":"Group II"},{"x":0.787,"y":0.393,"s":"upper aquifer"},{"x":1.287,"y":0.754,"s":"Group III"},{"x":1.302,"y":0.179,"s":"Group II"},{"x":1.135,"y":-0.107,"s":"lower"},{"x":1.135,"y":-0.182,"s":"aquifer"}]},
   "mark":{"type":"text","fontSize":12,"color":"#444444","align":"center"},"encoding":{"text":{"field":"s"}}}
 ]},
 {
 "width":312,"height":223,"view":{"stroke":"transparent"},
 "encoding":{"x":{"field":"x","type":"quantitative","scale":{"domain":[-0.028,1.706],"nice":false,"zero":false},"axis":null},"y":{"field":"y","type":"quantitative","scale":{"domain":[-0.1556,1.0833],"nice":false,"zero":false},"axis":null}},
 "layer":[
  {"data":{"values":[{"x":0.461,"y":0.089}]},"mark":{"type":"point","shape":"M-1,0C-1,-0.1767 -0.5523,-0.32 0,-0.32C0.5523,-0.32 1,-0.1767 1,0C1,0.1767 0.5523,0.32 0,0.32C-0.5523,0.32 -1,0.1767 -1,0Z","size":10000,"angle":-3,"filled":true,"color":"#b6ecf6","opacity":1}},
  {"data":{"values":[{"x":1.194,"y":0.379}]},"mark":{"type":"point","shape":"M-1,0C-1,-0.1767 -0.5523,-0.32 0,-0.32C0.5523,-0.32 1,-0.1767 1,0C1,0.1767 0.5523,0.32 0,0.32C-0.5523,0.32 -1,0.1767 -1,0Z","size":9216,"angle":68,"filled":true,"color":"#b6ecf6","opacity":1}},
  {"data":{"values":[{"x":0.871,"y":0.056}]},"mark":{"type":"point","shape":"M-1,0C-1,-0.1491 -0.5523,-0.27 0,-0.27C0.5523,-0.27 1,-0.1491 1,0C1,0.1491 0.5523,0.27 0,0.27C-0.5523,0.27 -1,0.1491 -1,0Z","size":3600,"angle":12,"filled":true,"color":"#f6f0a6","opacity":1}},
  {"data":{"values":[{"x":1.185,"y":0.093}]},"mark":{"type":"point","shape":"M-1,0C-1,-0.2044 -0.5523,-0.37 0,-0.37C0.5523,-0.37 1,-0.2044 1,0C1,0.2044 0.5523,0.37 0,0.37C-0.5523,0.37 -1,0.2044 -1,0Z","size":1444,"angle":62,"filled":true,"color":"#f6f0a6","opacity":1}},
  {"data":{"values":[{"x":0.648,"y":0.191}]},"mark":{"type":"point","shape":"circle","size":784,"filled":true,"color":"#f2c4c6","opacity":1}},
  {"data":{"values":[{"x":1.111,"y":0.357}]},"mark":{"type":"point","shape":"circle","size":676,"filled":true,"color":"#f2c4c6","opacity":1}},
  {"data":{"name":"tgrid"},"mark":{"type":"rule","color":"#e0e0e0","strokeWidth":0.8},"encoding":{"x2":{"field":"x2"},"y2":{"field":"y2"}}},
  {"data":{"name":"tedge"},"mark":{"type":"rule","color":"#707070","strokeWidth":1},"encoding":{"x2":{"field":"x2"},"y2":{"field":"y2"}}},
  {"data":{"values":[{"x":0.441,"y":0.102,"c":"blk"},{"x":0.587,"y":0.046,"c":"blk"},{"x":0.682,"y":0.028,"c":"blk"},{"x":1.228,"y":0.421,"c":"blk"},{"x":1.346,"y":0.346,"c":"blk"},{"x":1.237,"y":0.191,"c":"blk"},
     {"x":0.383,"y":0.161,"c":"open"},{"x":1.309,"y":0.333,"c":"open"},{"x":1.25,"y":0.172,"c":"open"},
     {"x":0.524,"y":0.061,"c":"gw"},{"x":0.617,"y":0.185,"c":"gw"},{"x":0.633,"y":0.167,"c":"gw"},{"x":0.709,"y":0.098,"c":"gw"},{"x":1.191,"y":0.589,"c":"gw"},{"x":1.115,"y":0.546,"c":"gw"},{"x":1.157,"y":0.333,"c":"gw"},{"x":1.089,"y":0.348,"c":"gw"},
     {"x":0.648,"y":0.204,"c":"g3"},{"x":0.676,"y":0.217,"c":"g3"},{"x":0.789,"y":0.096,"c":"g3"},{"x":1.093,"y":0.506,"c":"g3"},{"x":1.078,"y":0.357,"c":"g3"},{"x":1.139,"y":0.376,"c":"g3"},
     {"x":0.735,"y":0.083,"c":"orng"},{"x":0.835,"y":0.093,"c":"orng"},{"x":0.852,"y":0.091,"c":"orng"},{"x":0.926,"y":0.009,"c":"orng"},{"x":1.152,"y":0.148,"c":"orng"},{"x":1.182,"y":0.098,"c":"orng"},{"x":1.209,"y":0.065,"c":"orng"},
     {"x":0.861,"y":0.074,"c":"cyan"},{"x":0.879,"y":0.056,"c":"cyan"},{"x":1.283,"y":0.398,"c":"cyan"},{"x":1.272,"y":0.383,"c":"cyan"},{"x":1.161,"y":0.176,"c":"cyan"},
     {"x":0.944,"y":0.012,"c":"redt"},{"x":1.205,"y":0.012,"c":"redt"}]},
   "mark":{"type":"point","filled":true,"strokeWidth":0.8,"opacity":1},
   "encoding":{
    "shape":{"field":"c","type":"nominal","scale":{"domain":["gw","llam","nL","nD","sL","sD","sO","g3","up","g2","gray","hyd","blk","open","cyan","orng","redt"],"range":["circle","square","triangle-up","triangle-up","diamond","diamond","diamond","square","square","square","diamond","triangle-up","square","square","triangle-up","square","triangle-up"]},"legend":null},
    "fill":{"field":"c","type":"nominal","scale":{"domain":["gw","llam","nL","nD","sL","sD","sO","g3","up","g2","gray","hyd","blk","open","cyan","orng","redt"],"range":["#1616e8","#8b1010","#c8963c","#8b5a2b","#c8963c","#8b5a2b","#f5a030","#3ddc97","#fff27a","#e00000","#9a9a9a","#f26522","#000000","#ffffff","#7fe4f2","#f07a1e","#e60000"]},"legend":null},
    "stroke":{"field":"c","type":"nominal","scale":{"domain":["gw","llam","nL","nD","sL","sD","sO","g3","up","g2","gray","hyd","blk","open","cyan","orng","redt"],"range":["#00008a","#2a0000","#333333","#333333","#333333","#333333","#333333","#1a6040","#555555","#700000","#666666","#7a2a00","#000000","#555555","#1d5d6a","#7a3300","#700000"]},"legend":null},
    "size":{"field":"c","type":"nominal","scale":{"type":"ordinal","domain":["gw","llam","nL","nD","sL","sD","sO","g3","up","g2","gray","hyd","blk","open","cyan","orng","redt"],"range":[60,70,80,80,70,70,60,45,90,45,55,150,45,45,55,55,110]},"legend":null}}},
  {"data":{"values":[{"x":0.491,"y":0.917,"s":"Mg"},{"x":0.759,"y":0.926,"s":"HCO3"},{"x":1.593,"y":0.926,"s":"SO4"},{"x":0.056,"y":-0.094,"s":"Ca"},{"x":0.944,"y":-0.093,"s":"Na+K"},{"x":1.222,"y":-0.093,"s":"Cl"}]},
   "mark":{"type":"text","fontSize":12,"color":"#222222","align":"center"},"encoding":{"text":{"field":"s"}}},
  {"data":{"values":[{"x":0.067,"y":0.933,"s":"E"}]},
   "mark":{"type":"text","fontSize":19,"fontWeight":"bold","color":"#111111","align":"center"},"encoding":{"text":{"field":"s"}}},
  {"data":{"values":[{"x":0.879,"y":0.737,"s":"waters above 3000m"}]},
   "mark":{"type":"text","fontSize":14,"fontWeight":"bold","color":"#333333","align":"center"},"encoding":{"text":{"field":"s"}}},
  {"data":{"values":[{"x":0.294,"y":0.044,"s":"Group I"},{"x":0.898,"y":0.272,"s":"Group III"},{"x":0.991,"y":0.098,"s":"Group II"},{"x":1.357,"y":0.257,"s":"Group I"}]},
   "mark":{"type":"text","fontSize":12,"color":"#444444","align":"center"},"encoding":{"text":{"field":"s"}}}
 ]}
],"spacing":0,"bounds":"flush",
"resolve":{"scale":{"shape":"independent","fill":"independent","stroke":"independent","size":"independent"}}}
],
"spacing":13
}
